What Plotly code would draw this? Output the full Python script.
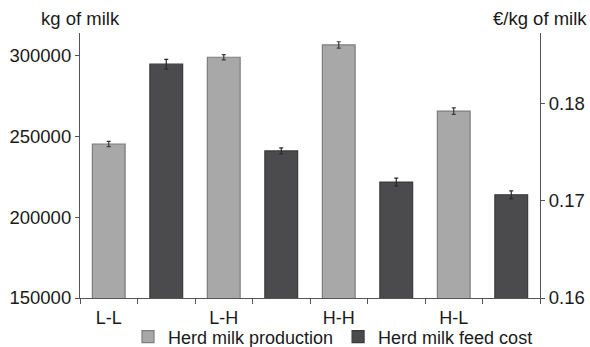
import plotly.graph_objects as go

# Scenario categories
categories = ["L-L", "L-H", "H-H", "H-L"]

# Herd milk production (kg of milk), left axis
milk_production = [245300, 299000, 306600, 265700]
milk_production_err = [1600, 1600, 2000, 2000]

# Herd milk feed cost (EUR per kg of milk), right axis
feed_cost = [0.1840, 0.1751, 0.1719, 0.1706]
feed_cost_err = [0.0005, 0.0003, 0.0004, 0.0004]

# Each category occupies two slots: production bar, then feed cost bar
prod_x = [2 * i + 1 for i in range(len(categories))]
cost_x = [2 * i + 2 for i in range(len(categories))]
slot_edges = [k + 0.5 for k in range(0, 2 * len(categories) + 1)]

FONT = "Liberation Sans, Arial, sans-serif"
FS = 18.5
LEG_FS = 18
AXIS = "#555555"
TEXT = "#1a1a1a"

fig = go.Figure()

fig.add_trace(go.Bar(
    x=prod_x, y=milk_production, width=0.57,
    name="Herd milk production",
    marker=dict(color="#a8a8a8", line=dict(color="#7d7d7d", width=1.2)),
    error_y=dict(type="data", array=milk_production_err, visible=True,
                 color="#3a3a3a", thickness=1.2, width=2),
    yaxis="y",
))
fig.add_trace(go.Bar(
    x=cost_x, y=feed_cost, width=0.57,
    name="Herd milk feed cost",
    marker=dict(color="#4b4b4d", line=dict(color="#3a3a3a", width=1.2)),
    error_y=dict(type="data", array=feed_cost_err, visible=True,
                 color="#2a2a2a", thickness=1.2, width=2),
    yaxis="y2",
))

fig.update_layout(
    width=590, height=347,
    margin=dict(l=80, r=50, t=33, b=49, autoexpand=False),
    paper_bgcolor="white", plot_bgcolor="white",
    font=dict(family=FONT, size=FS, color=TEXT),
    barmode="overlay",
    showlegend=True,
    legend=dict(orientation="h", x=0.55, xanchor="center", y=-0.147, yanchor="middle",
                font=dict(size=LEG_FS, color=TEXT), itemwidth=30,
                bgcolor="rgba(0,0,0,0)"),
    xaxis=dict(
        range=[0.5, 2 * len(categories) + 0.5],
        tickvals=prod_x, ticktext=categories,
        ticks="outside", ticklen=3, tickcolor="rgba(0,0,0,0)",
        showline=True, linecolor=AXIS, linewidth=1.2,
        showgrid=False, zeroline=False,
        minor=dict(tickvals=slot_edges, ticks="outside", ticklen=5,
                   tickcolor=AXIS, tickwidth=1, showgrid=False),
        tickfont=dict(size=18, color=TEXT),
    ),
    yaxis=dict(
        range=[150000, 314000],
        tickvals=[150000, 200000, 250000, 300000],
        ticktext=["150000", "200000", "250000", "300000"],
        ticks="outside", ticklen=4, tickcolor=AXIS,
        showline=True, linecolor=AXIS, linewidth=1.2,
        showgrid=False, zeroline=False,
        tickfont=dict(size=FS, color=TEXT),
    ),
    yaxis2=dict(
        range=[0.16, 0.1872], overlaying="y", side="right",
        tickvals=[0.16, 0.17, 0.18],
        ticktext=["0.16", "0.17", "0.18"],
        ticks="outside", ticklen=4, tickcolor=AXIS,
        showline=True, linecolor=AXIS, linewidth=1.2,
        showgrid=False, zeroline=False,
        tickfont=dict(size=FS, color=TEXT),
    ),
    annotations=[
        dict(text="kg of milk", xref="paper", yref="paper", x=0.0, y=1.0,
             xanchor="center", yanchor="bottom", yshift=2, showarrow=False,
             font=dict(size=FS, color=TEXT)),
        dict(text="€/kg of milk", xref="paper", yref="paper", x=1.0, y=1.0,
             xanchor="center", yanchor="bottom", yshift=2, showarrow=False,
             font=dict(size=FS, color=TEXT)),
    ],
)

fig.write_html("out.html")
